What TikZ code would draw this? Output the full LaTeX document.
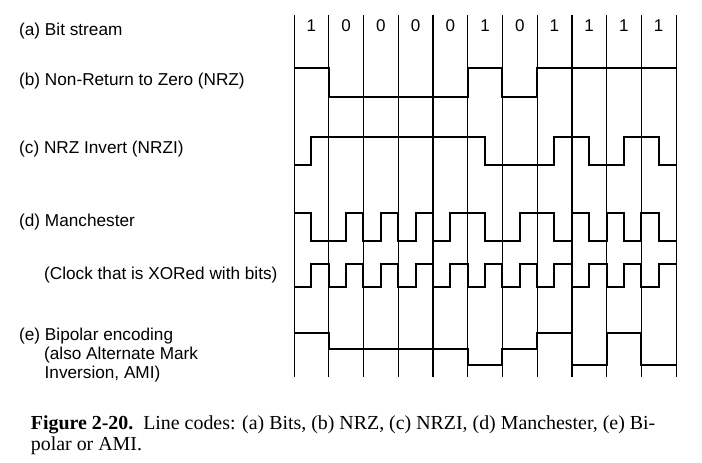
\documentclass[tikz,border=0pt]{standalone}
\usepackage{fontspec}
\setmainfont{Liberation Serif}
\setsansfont{Liberation Sans}

\begin{document}
\begin{tikzpicture}[x=1pt,y=-1pt,
    wave/.style={line width=2pt,line join=miter},
    slot/.style={line width=0.9pt},
    lbl/.style={anchor=base west,inner sep=0pt,font=\sffamily\fontsize{17.2}{19}\selectfont},
    bitlbl/.style={anchor=base,inner sep=0pt,font=\sffamily\fontsize{17}{19}\selectfont},
    caption/.style={anchor=base west,inner sep=0pt,font=\fontsize{19.9}{21}\selectfont}]
  \useasboundingbox (0,0) rectangle (702,463);
  \def\xo{294}
  \def\bw{34.727}
  \def\hw{17.3635}
  % bit slots
  \foreach \i in {0,...,11}
    \draw[slot] ({\xo+\i*\bw},15) -- ({\xo+\i*\bw},377);
  \foreach \i in {4,8}
    \draw[line width=1.5pt] ({\xo+\i*\bw},15) -- ({\xo+\i*\bw},377);
  % bits
  \foreach \b [count=\i from 0] in {1,0,0,0,0,1,0,1,1,1,1}
    \node[bitlbl] (bit\i) at ({\xo+(\i+0.5)*\bw},31.7) {\b};
  % (b) NRZ
  \draw[wave] (\xo,68) \foreach \l [count=\i from 0] in {68,97,97,97,97,68,97,68,68,68,68}
    { -- ({\xo+\i*\bw},\l) -- ({\xo+(\i+1)*\bw},\l) };
  % (c) NRZI, half bits
  \draw[wave] (\xo,165) \foreach \l [count=\i from 0] in {165,137,137,137,137,137,137,137,137,137,137,165,165,165,165,137,137,165,165,137,137,165}
    { -- ({\xo+\i*\hw},\l) -- ({\xo+(\i+1)*\hw},\l) };
  % (d) Manchester
  \draw[wave] (\xo,213) \foreach \l [count=\i from 0] in {213,241,241,213,241,213,241,213,241,213,213,241,241,213,213,241,213,241,213,241,213,241}
    { -- ({\xo+\i*\hw},\l) -- ({\xo+(\i+1)*\hw},\l) };
  % clock
  \draw[wave] (\xo,287) \foreach \l [count=\i from 0] in {287,264,287,264,287,264,287,264,287,264,287,264,287,264,287,264,287,264,287,264,287,264}
    { -- ({\xo+\i*\hw},\l) -- ({\xo+(\i+1)*\hw},\l) };
  % (e) bipolar
  \draw[wave] (\xo,333) \foreach \l [count=\i from 0] in {333,349,349,349,349,365,349,333,365,333,365}
    { -- ({\xo+\i*\bw},\l) -- ({\xo+(\i+1)*\bw},\l) };
  % labels
  \node[lbl] (bits) at (19,35.3) {(a) Bit stream};
  \node[lbl] (nrz) at (19,85.5) {(b) Non-Return to Zero (NRZ)};
  \node[lbl] (nrzi) at (19,153.3) {(c) NRZ Invert (NRZI)};
  \node[lbl] (manch) at (19,226) {(d) Manchester};
  \node[lbl] (clock) at (44,279.3) {(Clock that is XORed with bits)};
  \node[lbl] (ami) at (19,340) {(e) Bipolar encoding};
  \node[lbl] (ami2) at (44,359.3) {(also Alternate Mark};
  \node[lbl] (ami3) at (44.5,378.3) {Inversion, AMI)};
  % caption
  \node[caption] (cap1) at (30.7,429.3) {\textbf{Figure 2-20.}\ \ Line codes: (a) Bits, (b) NRZ, (c) NRZI, (d) Manchester, (e) Bi-};
  \node[caption] (cap2) at (30.7,450) {polar or AMI.};
\end{tikzpicture}
\end{document}
